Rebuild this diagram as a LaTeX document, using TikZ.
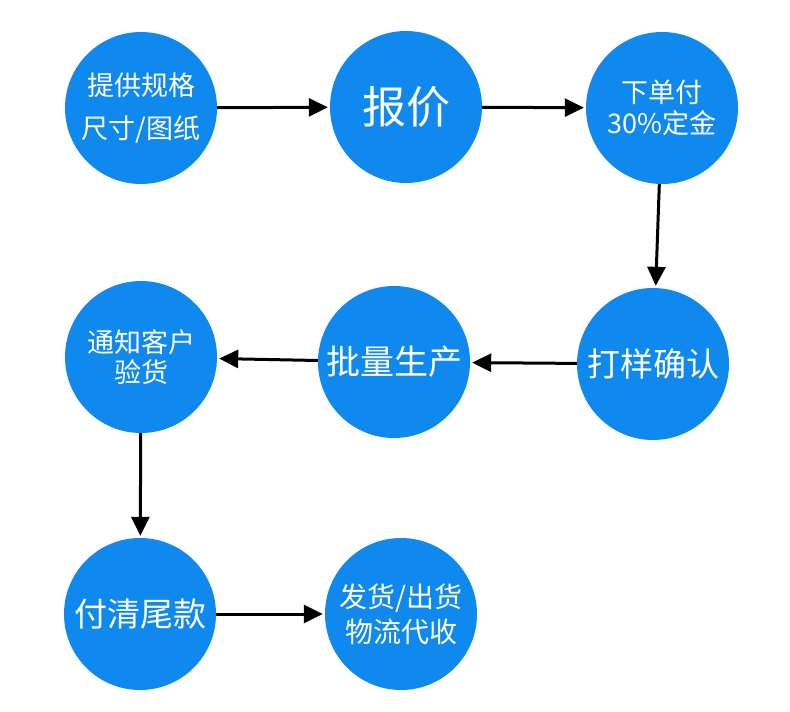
\documentclass[tikz,border=0pt]{standalone}
\usepackage{fontspec}
\newfontfamily\cjk{Noto Sans CJK SC}
\usetikzlibrary{arrows.meta}
\definecolor{stageblue}{RGB}{16,137,238}
\begin{document}
\begin{tikzpicture}[x=1pt,y=-1pt]

      \useasboundingbox (0,0) rectangle (790,712);

      \begin{scope}[every node/.style={circle,fill=stageblue,text=white,
          minimum size=152pt,inner sep=0pt,align=center}]
        \node (1) at (141,108) [font=\cjk\fontsize{27}{43}\selectfont] {提供规格\\尺寸/图纸};
        \node (2) at (406,107) [font=\cjk\fontsize{44}{50}\selectfont] {报价};
        \node (3) at (662,108) [font=\cjk\fontsize{27}{31}\selectfont] {下单付\\30\%定金};
        \node (4) at (653,364) [font=\cjk\fontsize{33}{38}\selectfont] {打样确认};
        \node (5) at (394,362) [font=\cjk\fontsize{34}{38}\selectfont] {批量生产};
        \node (6) at (141,357) [font=\cjk\fontsize{27}{30}\selectfont] {通知客户\\验货};
        \node (7) at (140,614) [font=\cjk\fontsize{33}{38}\selectfont] {付清尾款};
        \node (8) at (401,614) [font=\cjk\fontsize{28}{35}\selectfont] {发货/出货\\物流代收};
      \end{scope}

      \begin{scope}[every edge/.style={draw,line width=3pt,shorten >=2pt,
          -{Triangle[length=19pt,width=18pt]}}]
        \path (1) edge (2);
        \path (2) edge (3);
        \path (3) edge (4);
        \path (4) edge (5);
        \path (5) edge (6);
        \path (6) edge (7);
        \path (7) edge (8);
      \end{scope}

    \end{tikzpicture}
\end{document}
